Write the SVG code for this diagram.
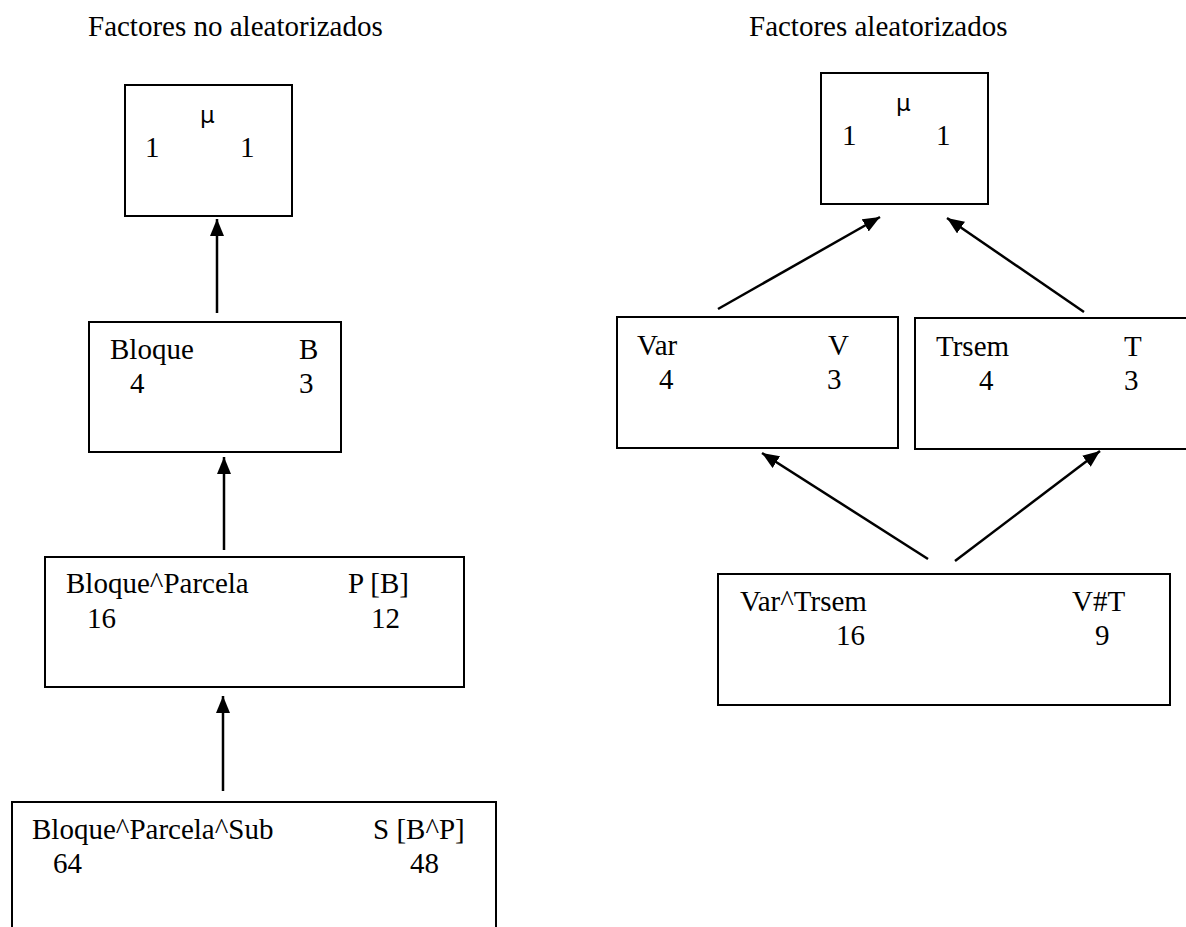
<svg xmlns="http://www.w3.org/2000/svg" width="1186" height="927" viewBox="0 0 1186 927">
  <style>
    .box { fill: #ffffff; stroke: #000000; stroke-width: 2; }
    .t { font-family: "Liberation Serif", "Times New Roman", serif; font-size: 29px; fill: #000000; }
    .mu { font-family: "DejaVu Sans", "Liberation Sans", sans-serif; font-size: 23px; fill: #000000; }
    .edge { stroke: #000000; stroke-width: 2.5; fill: none; marker-end: url(#head); }
  </style>
  <defs>
    <marker id="head" markerUnits="userSpaceOnUse" markerWidth="18" markerHeight="15" refX="17" refY="7" orient="auto">
      <path d="M0,0 L17,7 L0,14 z" fill="#000000"/>
    </marker>
  </defs>
  <rect width="1186" height="927" fill="#ffffff"/>

  <!-- column headings -->
  <text class="t" x="88" y="36">Factores no aleatorizados</text>
  <text class="t" x="749" y="36">Factores aleatorizados</text>

  <!-- non-randomised factors -->
  <g id="mu-left">
    <rect class="box" x="125" y="85" width="167" height="131"/>
    <text class="mu" x="200" y="123">μ</text>
    <text class="t" x="145" y="157">1</text>
    <text class="t" x="240" y="157">1</text>
  </g>
  <g id="bloque">
    <rect class="box" x="89" y="322" width="252" height="130"/>
    <text class="t" x="110" y="359">Bloque</text>
    <text class="t" x="130" y="393">4</text>
    <text class="t" x="299" y="359">B</text>
    <text class="t" x="299" y="393">3</text>
  </g>
  <g id="parcela">
    <rect class="box" x="45" y="557" width="419" height="130"/>
    <text class="t" x="66" y="593">Bloque^Parcela</text>
    <text class="t" x="87" y="628">16</text>
    <text class="t" x="348" y="593">P [B]</text>
    <text class="t" x="371" y="628">12</text>
  </g>
  <g id="sub">
    <rect class="box" x="12" y="802" width="484" height="140"/>
    <text class="t" x="32" y="839">Bloque^Parcela^Sub</text>
    <text class="t" x="53" y="873">64</text>
    <text class="t" x="373" y="839">S [B^P]</text>
    <text class="t" x="410" y="873">48</text>
  </g>

  <!-- randomised factors -->
  <g id="mu-right">
    <rect class="box" x="821" y="73" width="167" height="131"/>
    <text class="mu" x="896" y="111">μ</text>
    <text class="t" x="842" y="145">1</text>
    <text class="t" x="936" y="145">1</text>
  </g>
  <g id="var">
    <rect class="box" x="617" y="317" width="281" height="131"/>
    <text class="t" x="637" y="355">Var</text>
    <text class="t" x="659" y="389">4</text>
    <text class="t" x="828" y="355">V</text>
    <text class="t" x="827" y="389">3</text>
  </g>
  <g id="trsem">
    <rect class="box" x="915" y="318" width="280" height="131"/>
    <text class="t" x="936" y="356">Trsem</text>
    <text class="t" x="979" y="390">4</text>
    <text class="t" x="1124" y="356">T</text>
    <text class="t" x="1124" y="390">3</text>
  </g>
  <g id="var-trsem">
    <rect class="box" x="718" y="574" width="452" height="131"/>
    <text class="t" x="740" y="611">Var^Trsem</text>
    <text class="t" x="836" y="645">16</text>
    <text class="t" x="1072" y="611">V#T</text>
    <text class="t" x="1095" y="645">9</text>
  </g>

  <!-- connectors -->
  <g id="connectors">
    <line class="edge" x1="217" y1="313" x2="217" y2="219"/>
    <line class="edge" x1="224" y1="550" x2="224" y2="457"/>
    <line class="edge" x1="223" y1="791" x2="223" y2="696"/>
    <line class="edge" x1="718" y1="309" x2="880" y2="217"/>
    <line class="edge" x1="1084" y1="312" x2="947" y2="218"/>
    <line class="edge" x1="928" y1="559" x2="762" y2="453"/>
    <line class="edge" x1="955" y1="561" x2="1100" y2="451"/>
  </g>
</svg>
